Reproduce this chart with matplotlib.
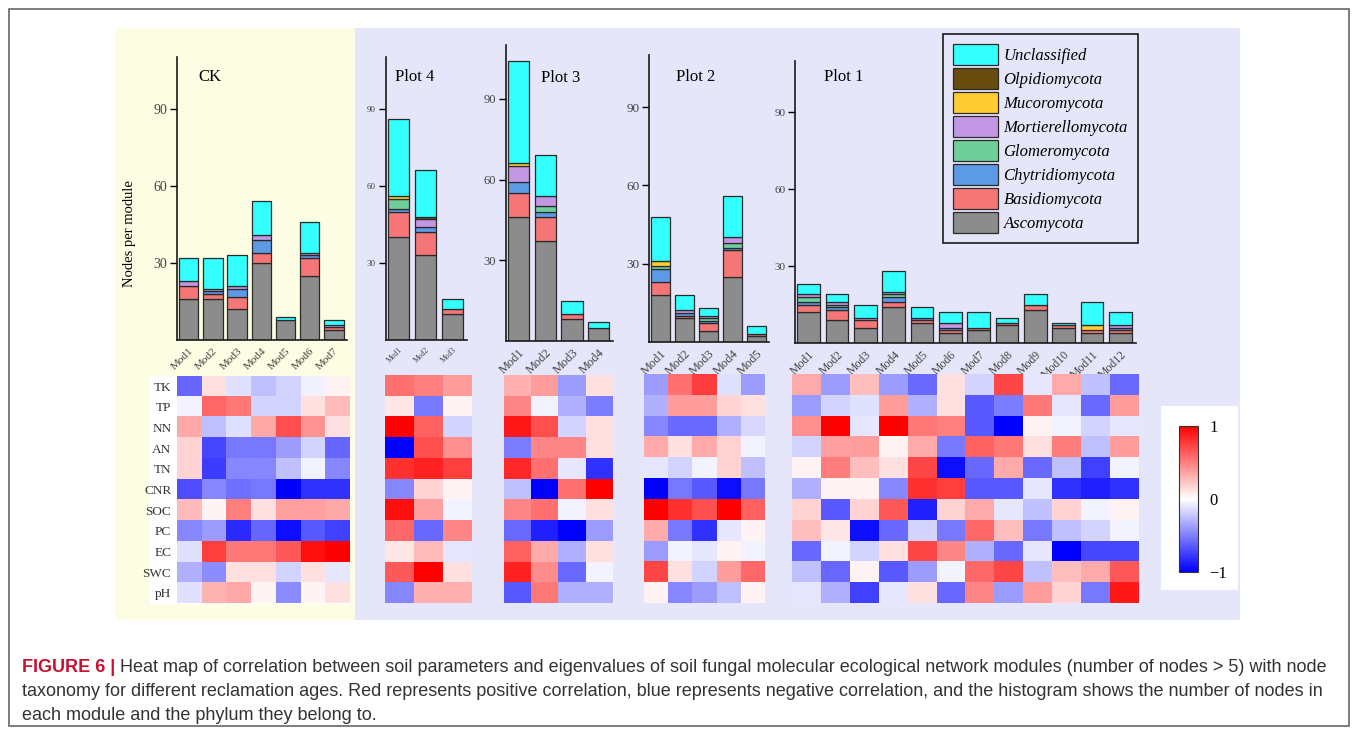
import matplotlib.pyplot as plt
import numpy as np
from matplotlib.patches import Rectangle, Patch

W, H = 1358, 735

plt.rcParams['font.family'] = ['Liberation Serif', 'DejaVu Serif']

phyla = ['Ascomycota', 'Basidiomycota', 'Chytridiomycota', 'Glomeromycota',
         'Mortierellomycota', 'Mucoromycota', 'Olpidiomycota', 'Unclassified']
phylum_colors = ['#8c8c8c', '#f47676', '#5c9ae6', '#6fcf9a',
                 '#c497e4', '#ffcc33', '#6b4c10', '#33ffff']
params = ['TK', 'TP', 'NN', 'AN', 'TN', 'CNR', 'SOC', 'PC', 'EC', 'SWC', 'pH']

# nodes per module, one row per phylum (same order as `phyla`)
ck_nodes = [
    [16, 16, 12, 30, 8, 25, 4],
    [5, 2, 5, 4, 0, 7, 1],
    [0, 1, 3, 5, 0, 1, 0],
    [0, 0, 0, 0, 0, 0, 0],
    [2, 1, 1, 2, 0, 1, 1],
    [0, 0, 0, 0, 0, 0, 0],
    [0, 0, 0, 0, 0, 0, 0],
    [9, 12, 12, 13, 1, 12, 2],
]
p4_nodes = [
    [40, 33, 10],
    [10, 9, 2],
    [1, 2, 0],
    [4, 0, 0],
    [0, 3, 0],
    [1, 0, 0],
    [0, 1, 0],
    [30, 18, 4],
]
p3_nodes = [
    [46, 37, 8, 5],
    [9, 9, 2, 0],
    [4, 2, 0, 0],
    [0, 2, 0, 0],
    [6, 4, 0, 0],
    [1, 0, 0, 0],
    [0, 0, 0, 0],
    [38, 15, 5, 2],
]
p2_nodes = [
    [18, 9, 4, 25, 2],
    [5, 1, 3, 10, 1],
    [5, 1, 1, 1, 0],
    [1, 0, 1, 2, 0],
    [0, 1, 1, 2, 0],
    [2, 0, 0, 0, 0],
    [0, 0, 0, 0, 0],
    [17, 6, 3, 16, 3],
]
p1_nodes = [
    [12, 9, 6, 14, 8, 4, 5, 7, 13, 6, 4, 4],
    [3, 4, 3, 2, 1, 1, 1, 1, 2, 1, 1, 1],
    [1, 1, 0, 2, 1, 1, 0, 0, 0, 0, 0, 1],
    [2, 1, 0, 1, 0, 0, 0, 0, 0, 0, 0, 0],
    [1, 1, 1, 1, 0, 2, 0, 0, 0, 0, 0, 1],
    [0, 0, 0, 0, 0, 0, 0, 0, 0, 0, 2, 0],
    [0, 0, 0, 0, 0, 0, 0, 0, 0, 0, 0, 0],
    [4, 3, 5, 8, 4, 4, 6, 2, 4, 1, 9, 5],
]

# correlation of module eigenvalues with soil parameters (rows follow `params`)
ck_corr = [
    [-0.6, 0.12, -0.12, -0.25, -0.17, -0.05, 0.05],
    [-0.04, 0.6, 0.53, -0.17, -0.17, 0.12, 0.27],
    [0.34, -0.25, -0.12, 0.34, 0.69, 0.42, 0.12],
    [0.17, -0.72, -0.53, -0.53, -0.39, -0.17, -0.6],
    [0.17, -0.76, -0.47, -0.47, -0.25, -0.04, -0.47],
    [-0.69, -0.47, -0.56, -0.53, -1.0, -0.81, -0.81],
    [0.27, 0.04, 0.5, 0.12, 0.37, 0.37, 0.34],
    [-0.47, -0.39, -0.83, -0.6, -0.94, -0.65, -0.75],
    [-0.12, 0.75, 0.53, 0.53, 0.65, 0.94, 1.0],
    [-0.31, -0.45, 0.12, 0.12, -0.17, 0.12, -0.1],
    [-0.12, 0.3, 0.34, 0.04, -0.45, 0.04, 0.12],
]
p4_corr = [
    [0.56, 0.5, 0.39],
    [0.1, -0.53, 0.05],
    [1.0, 0.62, -0.17],
    [-1.0, 0.69, 0.44],
    [0.81, 0.87, 0.75],
    [-0.47, 0.17, 0.05],
    [0.94, 0.37, -0.04],
    [0.59, -0.59, 0.47],
    [0.1, 0.27, -0.1],
    [0.65, 1.0, 0.12],
    [-0.47, 0.31, 0.31],
]
p3_corr = [
    [0.31, 0.39, -0.39, 0.12],
    [0.47, -0.04, -0.31, -0.51],
    [0.9, 0.69, -0.17, 0.12],
    [-0.51, 0.47, 0.47, 0.12],
    [0.84, 0.56, -0.1, -0.81],
    [-0.25, -1.0, 0.56, 1.0],
    [0.47, 0.56, -0.04, 0.12],
    [-0.58, -0.87, -1.0, -0.39],
    [0.62, 0.33, -0.31, 0.12],
    [0.87, 0.45, -0.58, -0.04],
    [-0.65, 0.53, -0.31, -0.31],
]
p2_corr = [
    [-0.39, 0.55, 0.76, -0.12, -0.39],
    [-0.31, 0.39, 0.39, 0.17, 0.12],
    [-0.47, -0.58, -0.58, -0.31, -0.15],
    [0.33, 0.12, 0.33, 0.17, -0.04],
    [-0.1, -0.17, -0.04, 0.17, -0.25],
    [-1.0, -0.53, -0.65, -0.94, -0.53],
    [1.0, 0.81, 0.69, 1.0, 0.62],
    [0.33, -0.53, -0.81, -0.1, 0.05],
    [-0.39, -0.04, -0.1, 0.05, -0.04],
    [0.72, 0.12, -0.17, 0.39, 0.59],
    [0.05, -0.47, -0.39, -0.25, 0.05],
]
p1_corr = [
    [0.33, -0.39, 0.25, -0.39, -0.58, 0.12, -0.17, 0.72, -0.1, 0.33, -0.25, -0.58],
    [-0.39, -0.17, -0.12, 0.39, -0.31, 0.12, -0.65, -0.51, 0.53, -0.1, -0.58, 0.39],
    [0.44, 1.0, -0.1, 1.0, 0.53, 0.5, -0.65, -1.0, 0.05, -0.04, -0.17, -0.1],
    [-0.17, 0.37, 0.39, 0.05, 0.33, -0.53, 0.62, 0.53, 0.12, 0.51, -0.25, 0.39],
    [0.05, 0.51, 0.25, 0.12, 0.72, -0.94, -0.59, 0.33, -0.58, -0.25, -0.75, -0.04],
    [-0.31, 0.05, 0.05, -0.47, 0.81, 0.75, -0.65, -0.65, -0.1, -0.81, -0.87, -0.81],
    [0.17, -0.65, 0.17, 0.65, -0.87, 0.17, 0.33, -0.1, -0.25, 0.17, -0.04, 0.05],
    [0.25, 0.1, -0.94, -0.59, -0.17, -0.53, 0.59, 0.25, -0.53, -0.25, -0.17, -0.04],
    [-0.59, -0.04, -0.17, 0.12, 0.72, 0.47, -0.31, -0.59, -0.1, -1.0, -0.72, -0.72],
    [-0.25, -0.59, 0.05, -0.65, -0.39, -0.04, 0.59, 0.72, -0.25, 0.25, 0.33, 0.65],
    [-0.1, -0.31, -0.75, -0.1, 0.12, -0.59, 0.47, -0.39, 0.39, 0.17, -0.53, 0.9],
]

caption_head = 'FIGURE 6 |'
caption_lines = [
    ' Heat map of correlation between soil parameters and eigenvalues of soil fungal '
    'molecular ecological network modules (number of nodes > 5) with node',
    'taxonomy for different reclamation ages. Red represents positive correlation, '
    'blue represents negative correlation, and the histogram shows the number of nodes in',
    'each module and the phylum they belong to.',
]


def px_box(x0, y0, x1, y1):
    """Pixel box (left, top, right, bottom) -> figure fraction rect."""
    return [x0 / W, 1 - y1 / H, (x1 - x0) / W, (y1 - y0) / H]


def px_rect(x0, y0, x1, y1, **kw):
    r = Rectangle((x0 / W, 1 - y1 / H), (x1 - x0) / W, (y1 - y0) / H,
                  transform=fig.transFigure, **kw)
    fig.add_artist(r)
    return r


def draw_bars(box, nodes, ysize, xsize):
    ax = fig.add_axes(px_box(*box))
    ax.set_facecolor('none')
    nodes = np.array(nodes, dtype=float)
    n = nodes.shape[1]
    x = np.arange(n)
    bottom = np.zeros(n)
    for counts, color in zip(nodes, phylum_colors):
        keep = counts > 0
        ax.bar(x[keep], counts[keep], 0.8, bottom=bottom[keep], color=color,
               edgecolor='#2a2a2a', linewidth=0.9)
        bottom += counts
    ax.set_xlim(-0.48, n - 0.46)
    ax.set_ylim(0, 110)
    ax.set_yticks([30, 60, 90])
    ax.set_xticks(x)
    ax.set_xticklabels(['Mod%d' % (i + 1) for i in range(n)], rotation=45,
                       ha='right', va='top', rotation_mode='anchor')
    ax.tick_params(axis='y', direction='out', length=5, width=1,
                   labelsize=ysize, labelcolor='#444444', pad=2)
    ax.tick_params(axis='x', length=0, labelsize=xsize, labelcolor='#444444', pad=4)
    for s in ['top', 'right']:
        ax.spines[s].set_visible(False)
    for s in ['left', 'bottom']:
        ax.spines[s].set_linewidth(1.2)
        ax.spines[s].set_color('#1a1a1a')
    return ax


def draw_heat(box, corr, with_labels=False):
    ax = fig.add_axes(px_box(*box))
    im = ax.imshow(np.array(corr), cmap='bwr', vmin=-1, vmax=1,
                   aspect='auto', interpolation='nearest')
    ax.set_xticks([])
    if with_labels:
        ax.set_yticks(range(len(params)))
        ax.set_yticklabels(params, fontsize=9.5, color='#333333')
        ax.tick_params(axis='y', length=0, pad=4)
    else:
        ax.set_yticks([])
    for s in ax.spines.values():
        s.set_visible(False)
    return im


fig = plt.figure(figsize=(W / 100, H / 100), dpi=100)
fig.patch.set_facecolor('white')

# panel backgrounds and outer frame
px_rect(115, 28, 355, 620, facecolor='#fdfde4', edgecolor='none', zorder=-2)
px_rect(355, 28, 1240, 620, facecolor='#e6e6fa', edgecolor='none', zorder=-2)
px_rect(150, 376, 350, 604, facecolor='white', edgecolor='none', zorder=-1)
px_rect(1161, 406, 1238, 590, facecolor='white', edgecolor='none', zorder=-1)
px_rect(9, 9, 1349, 726, facecolor='none', edgecolor='#666666', linewidth=1.2, zorder=5)

panels = [
    ('CK', ck_nodes, ck_corr, (177, 57, 347, 340.3), (176.7, 376, 349.3, 603.3), 10, 8, (198, 77)),
    ('Plot 4', p4_nodes, p4_corr, (385.7, 57.3, 467, 340), (385, 375, 471.7, 603), 6.5, 5.5, (395, 77)),
    ('Plot 3', p3_nodes, p3_corr, (506, 45, 613, 341), (504.3, 375, 613.3, 603), 9, 9, (541, 78)),
    ('Plot 2', p2_nodes, p2_corr, (649, 55, 769, 341.7), (644.3, 374, 765, 603), 9.5, 9, (676, 77)),
    ('Plot 1', p1_nodes, p1_corr, (795, 60.7, 1135.7, 343.3), (792.3, 374, 1139, 603), 8, 8.5, (824, 77)),
]

for name, nodes, corr, bbox, hbox, ysize, xsize, (tx, ty) in panels:
    draw_bars(bbox, nodes, ysize, xsize)
    im = draw_heat(hbox, corr, with_labels=(name == 'CK'))
    fig.text(tx / W, 1 - ty / H, name, fontsize=12, ha='left', va='center')

fig.text(130 / W, 1 - 234 / H, 'Nodes per module', rotation=90, fontsize=10.5,
         ha='center', va='center')

# phylum legend, top entry first
handles = [Patch(facecolor=c, edgecolor='#2a2a2a', linewidth=0.9)
           for c in phylum_colors[::-1]]
leg = fig.legend(handles, phyla[::-1], loc='upper left',
                 bbox_to_anchor=(942.7 / W, 1 - 34.3 / H), borderaxespad=0,
                 prop={'family': 'Liberation Serif', 'style': 'italic', 'size': 12},
                 handlelength=2.7, handleheight=1.5, labelspacing=0.22,
                 handletextpad=0.35, borderpad=0.6, fancybox=False, framealpha=1)
leg.get_frame().set_facecolor('#e6e6fa')
leg.get_frame().set_edgecolor('#1a1a1a')
leg.get_frame().set_linewidth(1.2)

# colour scale
cax = fig.add_axes(px_box(1179.3, 426, 1198.3, 572))
cb = fig.colorbar(im, cax=cax, ticks=[-1, 0, 1])
cb.ax.set_yticklabels(['\u22121', '0', '1'])
cb.ax.tick_params(length=0, labelsize=12, pad=8)
cb.outline.set_linewidth(0.8)
cb.outline.set_edgecolor('#333333')

# caption
sans = ['Liberation Sans', 'DejaVu Sans']
cap_size = 13
fig.canvas.draw()
head = fig.text(22 / W, 1 - 667 / H, caption_head, fontsize=cap_size, family=sans,
                fontweight='bold', color='#c8102e', va='center', ha='left')
bb = head.get_window_extent(renderer=fig.canvas.get_renderer())
fig.text(bb.x1 / W, 1 - 667 / H, caption_lines[0], fontsize=cap_size, family=sans,
         color='#333333', va='center', ha='left')
for line, y in zip(caption_lines[1:], [691, 715]):
    fig.text(22 / W, 1 - y / H, line, fontsize=cap_size, family=sans,
             color='#333333', va='center', ha='left')

fig.savefig('out.png', dpi=100, facecolor='white')
